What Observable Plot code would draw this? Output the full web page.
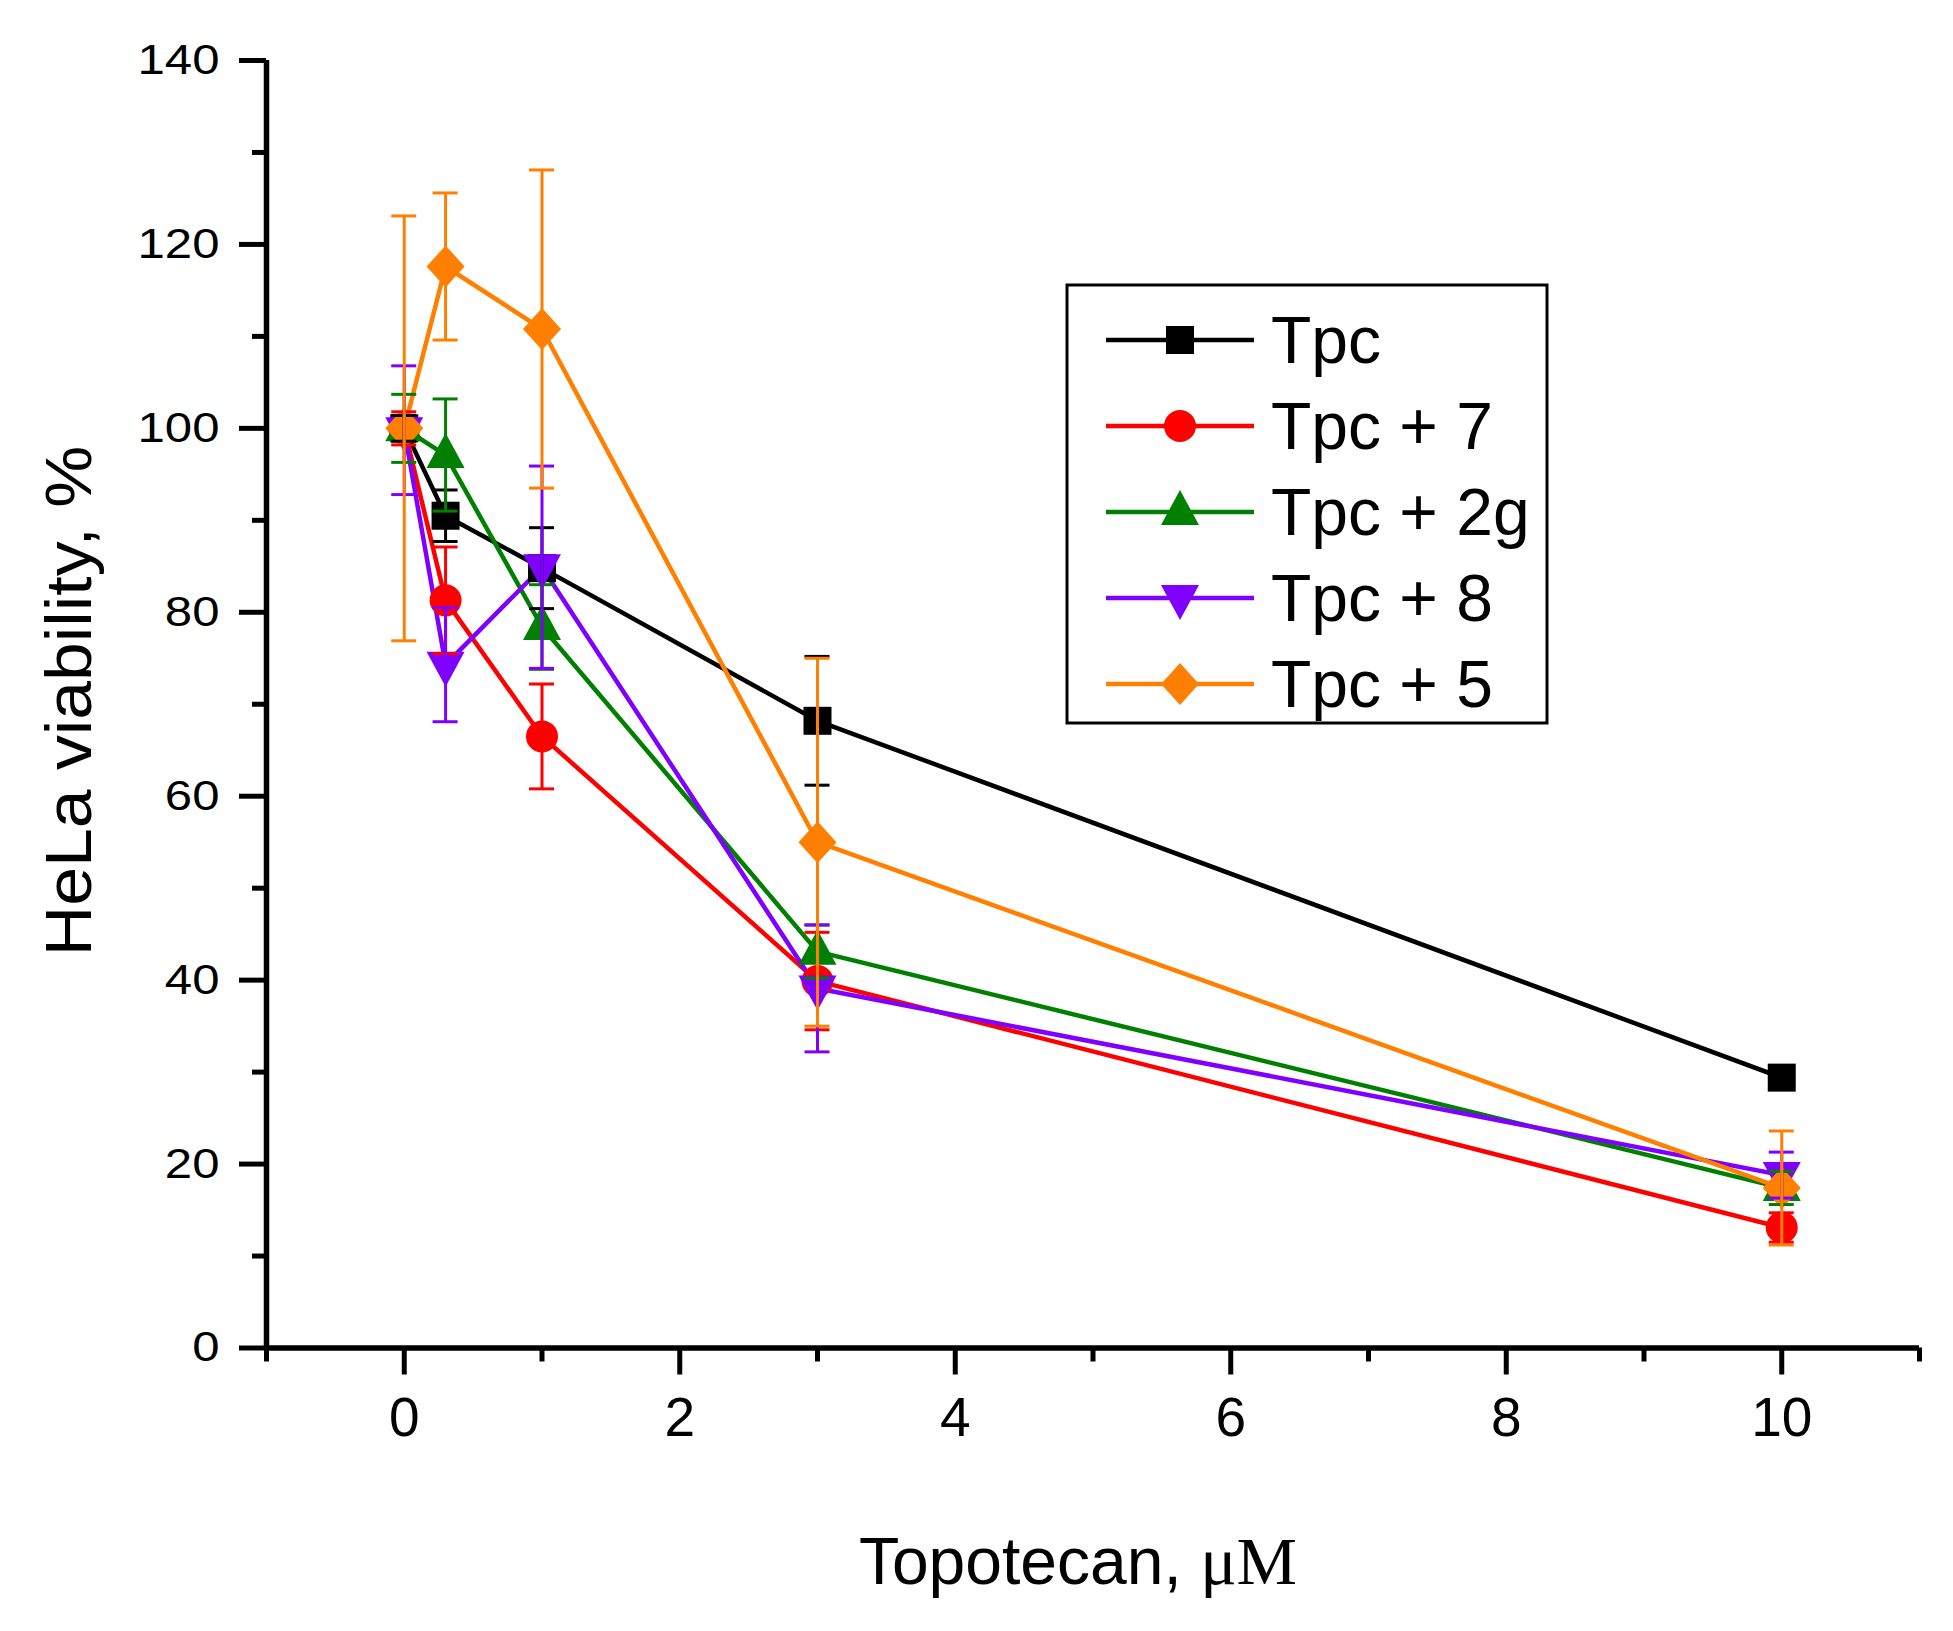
<!DOCTYPE html>
<html>
<head>
<meta charset="utf-8">
<script src="https://cdn.jsdelivr.net/npm/d3@7"></script>
<script src="https://cdn.jsdelivr.net/npm/@observablehq/plot@0.6"></script>
<style>
  html, body { margin: 0; padding: 0; background: #fff; }
  #chart { position: relative; width: 1953px; height: 1631px; }
</style>
</head>
<body>
<div id="chart"></div>
<script>
// Topotecan concentrations (µM)
const doses = [0, 0.3, 1, 3, 10];

// Treatment groups and their colours
const seriesNames = ["Tpc", "Tpc + 7", "Tpc + 2g", "Tpc + 8", "Tpc + 5"];
const seriesColors = ["#000000", "#ff0000", "#008000", "#8000ff", "#ff8000"];

// HeLa viability (%) and error bars for each group
const tpc      = [100.0, 90.5, 84.8, 68.2, 29.4];
const tpcErr   = [1.4, 2.8, 4.4, 7.0, 1.2];
const tpc7     = [100.0, 81.3, 66.5, 39.9, 13.1];
const tpc7Err  = [1.8, 5.8, 5.7, 5.3, 1.6];
const tpc2g    = [100.0, 97.1, 78.4, 43.1, 17.4];
const tpc2gErr = [3.7, 6.1, 4.6, 2.9, 1.8];
const tpc8     = [99.8, 74.3, 84.9, 39.1, 18.8];
const tpc8Err  = [7.0, 6.2, 11.0, 6.9, 2.5];
const tpc5     = [100.0, 117.6, 110.8, 55.0, 17.4];
const tpc5Err  = [23.1, 8.0, 17.3, 20.0, 6.2];

// Axis ticks and titles
const xMajorTicks = [0, 2, 4, 6, 8, 10];
const xMinorTicks = [-1, 1, 3, 5, 7, 9, 11];
const yMajorTicks = [0, 20, 40, 60, 80, 100, 120, 140];
const yMinorTicks = [10, 30, 50, 70, 90, 110, 130];
const xTitle = "Topotecan, ";
const xTitleUnit = "μM";
const yTitle = "HeLa viability, %";

const values = [tpc, tpc7, tpc2g, tpc8, tpc5];
const errors = [tpcErr, tpc7Err, tpc2gErr, tpc8Err, tpc5Err];

const rows = seriesNames.flatMap((name, s) =>
  doses.map((dose, i) => ({series: name, dose, value: values[s][i], err: errors[s][i]}))
);
const caps = rows.flatMap(r => [
  {...r, cap: r.value + r.err},
  {...r, cap: r.value - r.err}
]);

// Marker shapes
const polygon = (pts) => ({
  draw(ctx) {
    ctx.moveTo(pts[0][0], pts[0][1]);
    for (const p of pts.slice(1)) ctx.lineTo(p[0], p[1]);
    ctx.closePath();
  }
});
const symSquare = polygon([[-14, -14], [14, -14], [14, 14], [-14, 14]]);
const symCircle = {draw(ctx) { ctx.moveTo(16, 0); ctx.arc(0, 0, 16, 0, 2 * Math.PI); ctx.closePath(); }};
const symTriUp = polygon([[0, -22], [19, 13], [-19, 13]]);
const symTriDown = polygon([[0, 22], [19, -13], [-19, -13]]);
const symDiamond = polygon([[0, -21], [19, 0], [0, 21], [-19, 0]]);
const seriesSymbols = [symSquare, symCircle, symTriUp, symTriDown, symDiamond];

const font = "'Liberation Sans', Arial, Helvetica, sans-serif";
const fmt = d => String(d);

const plot = Plot.plot({
  width: 1953,
  height: 1631,
  marginLeft: 266,
  marginRight: 34,
  marginTop: 60,
  marginBottom: 283.5,
  x: {domain: [-1, 11], label: null},
  y: {domain: [0, 140], label: null},
  color: {type: "ordinal", domain: seriesNames, range: seriesColors},
  style: {fontFamily: font, background: "#fff", color: "#000", overflow: "visible"},
  marks: [
    // axes
    Plot.axisX(xMinorTicks, {tickSize: 14, strokeWidth: 5, tickFormat: () => "", label: null}),
    Plot.axisX(xMajorTicks, {tickSize: 27, tickPadding: 22, strokeWidth: 5, fontSize: 55, tickFormat: fmt, label: null}),
    Plot.axisY(yMinorTicks, {tickSize: 14, strokeWidth: 5, tickFormat: () => "", label: null}),
    Plot.axisY(yMajorTicks, {tickSize: 27, tickPadding: 20, strokeWidth: 5, fontSize: 42, tickFormat: fmt, label: null}),
    Plot.ruleY([0], {strokeWidth: 5.5}),
    Plot.ruleX([-1], {y1: 0, y2: 140, strokeWidth: 5.5}),

    // connecting lines
    Plot.line(rows, {x: "dose", y: "value", z: "series", stroke: "series", strokeWidth: 4.5}),

    // markers
    ...seriesNames.map((name, s) =>
      Plot.dot(rows.filter(r => r.series === name), {
        x: "dose", y: "value", symbol: seriesSymbols[s], r: 10,
        fill: seriesColors[s], stroke: "none"
      })
    ),

    // error bars
    ...seriesNames.flatMap((name) => [
      Plot.ruleX(rows.filter(r => r.series === name), {
        x: "dose", y1: r => r.value - r.err, y2: r => r.value + r.err,
        stroke: "series", strokeWidth: 3
      }),
      Plot.ruleY(caps.filter(r => r.series === name), {
        y: "cap", x1: "dose", x2: "dose", insetLeft: -12.5, insetRight: -12.5,
        stroke: "series", strokeWidth: 3
      })
    ])
  ]
});

document.getElementById("chart").appendChild(plot);

const svg = d3.select(plot);

// widen the y tick labels horizontally about their anchor point
svg.selectAll("text").each(function() {
  const t = d3.select(this);
  const label = this.textContent;
  if (!yMajorTicks.map(String).includes(label)) return;
  const g = this.closest("g");
  if (!g || !(g.getAttribute("text-anchor") === "end" || this.getAttribute("text-anchor") === "end")) return;
  const tr = t.attr("transform");
  if (tr) {
    t.attr("transform", tr + " scale(1.17,1)");
  } else {
    const x = +t.attr("x") || 0, y = +t.attr("y") || 0;
    t.attr("x", null).attr("y", null).attr("transform", `translate(${x},${y}) scale(1.17,1)`);
  }
});

// axis titles
const xt = svg.append("text")
  .attr("x", 1078).attr("y", 1584)
  .attr("text-anchor", "middle")
  .attr("font-family", font).attr("font-size", 66).attr("fill", "#000");
xt.append("tspan").text(xTitle);
xt.append("tspan").attr("font-family", "'Liberation Serif', 'Times New Roman', serif").attr("font-size", 68).text(xTitleUnit);

svg.append("text")
  .attr("transform", "translate(91,701) rotate(-90) scale(1.09,1)")
  .attr("text-anchor", "middle")
  .attr("font-family", font).attr("font-size", 64).attr("fill", "#000")
  .text(yTitle);

// legend
const legend = svg.append("g").attr("text-anchor", "start");
legend.append("rect")
  .attr("x", 1067).attr("y", 285).attr("width", 480).attr("height", 438)
  .attr("fill", "#fff").attr("stroke", "#000").attr("stroke-width", 3);

seriesNames.forEach((name, s) => {
  const cy = 340 + s * 86;
  const g = legend.append("g");
  g.append("line")
    .attr("x1", 1106).attr("x2", 1254).attr("y1", cy).attr("y2", cy)
    .attr("stroke", seriesColors[s]).attr("stroke-width", 4.5);
  g.append("path")
    .attr("transform", `translate(1180,${cy})`)
    .attr("d", d3.symbol(seriesSymbols[s], 64)())
    .attr("fill", seriesColors[s]);
  g.append("text")
    .attr("x", 1271).attr("y", cy + 23)
    .attr("text-anchor", "start")
    .attr("font-family", font).attr("font-size", 66).attr("fill", "#000")
    .text(name);
});
</script>
</body>
</html>
